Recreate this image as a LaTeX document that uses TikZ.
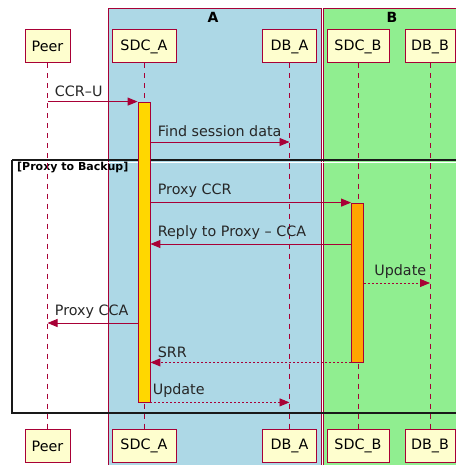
\documentclass[tikz,border=0pt]{standalone}
\usepackage{fontspec}
\setsansfont{DejaVu Sans}
\usetikzlibrary{arrows.meta,positioning}
\definecolor{umlred}{HTML}{A80036}
\definecolor{umlbox}{HTML}{FEFECE}
\definecolor{boxa}{HTML}{ADD8E6}
\definecolor{boxb}{HTML}{90EE90}
\definecolor{actgold}{HTML}{FFD700}
\definecolor{actorange}{HTML}{FFA500}
\begin{document}
\begin{tikzpicture}[x=1pt, y=-1pt, font=\sffamily\fontsize{14.3}{16}\selectfont,
  party/.style={draw=umlred, fill=umlbox, line width=1pt, minimum height=33pt, inner sep=0pt},
  lifeline/.style={draw=umlred, dash pattern=on 5pt off 5pt, line width=0.9pt},
  actbar/.style={draw=umlred, line width=0.8pt, minimum width=12pt, inner sep=0pt},
  msg/.style={draw=umlred, line width=0.9pt, -{Triangle[length=10pt,width=8pt]}},
  answer/.style={msg, dash pattern=on 2pt off 2pt},
  lbl/.style={anchor=south west, inner sep=0pt, yshift=4.5pt, xshift=7pt, text=black!85}]
\useasboundingbox (0,0) rectangle (455,465);
\fill[white] (0,0) rectangle (455,465);
\filldraw[fill=boxa, draw=umlred, line width=0.9pt] (108,8) rectangle (321,470);
\filldraw[fill=boxb, draw=umlred, line width=0.9pt] (323,8) rectangle (470,470);
\node[font=\sffamily\bfseries\fontsize{14}{16}\selectfont] (titleA) at (213,17) {A};
\node[font=\sffamily\bfseries\fontsize{14}{16}\selectfont] (titleB) at (392,17) {B};
\draw[black!90, line width=1.6pt] (12,160) -- (460,160) (12,160) -- (12,413) -- (460,413);
\draw[white, line width=1.2pt] (13,162.5) -- (460,162.5);
\node[anchor=west, inner sep=0pt, font=\sffamily\bfseries\fontsize{11}{13}\selectfont] (grp) at (17,168) {[Proxy to Backup]};
\node[party, minimum width=45pt] (peerTop) at (47.5,46.5) {Peer};
\node[party, minimum width=64pt] (sdcaTop) at (144,46.5) {SDC\_A};
\node[party, minimum width=54pt] (dbaTop) at (289.5,46.5) {DB\_A};
\node[party, minimum width=62pt] (sdcbTop) at (358,46.5) {SDC\_B};
\node[party, minimum width=50pt] (dbbTop) at (430,46.5) {DB\_B};
\node[party, minimum width=45pt] (peerBot) at (47.5,446) {Peer};
\node[party, minimum width=64pt] (sdcaBot) at (144,446) {SDC\_A};
\node[party, minimum width=54pt] (dbaBot) at (289.5,446) {DB\_A};
\node[party, minimum width=62pt] (sdcbBot) at (358,446) {SDC\_B};
\node[party, minimum width=50pt] (dbbBot) at (430,446) {DB\_B};
\foreach \p in {peer,sdca,dba,sdcb,dbb}
  \draw[lifeline] (\p Top) -- (\p Bot);
\node[actbar, fill=actgold, minimum height=300pt] (sdcaAct) at (144,252) {};
\node[actbar, fill=actorange, minimum height=159pt] (sdcbAct) at (357.5,282.5) {};
\coordinate (findY) at (0,142);
\coordinate (replyY) at (0,244);
\coordinate (updY) at (0,283);
\coordinate (ccaY) at (0,323);
\draw[msg] (peerTop |- sdcaAct.north) -- (sdcaAct.north west) node[lbl, pos=0] {CCR–U};
\draw[msg] (sdcaAct.east |- findY) -- (dbaTop |- findY) node[lbl, pos=0] {Find session data};
\draw[msg] (sdcaAct.east |- sdcbAct.north) -- (sdcbAct.north west) node[lbl, pos=0] {Proxy CCR};
\draw[msg] (sdcbAct.west |- replyY) -- (sdcaAct.east |- replyY) node[lbl, pos=1] {Reply to Proxy – CCA};
\draw[answer] (sdcbAct.east |- updY) -- (dbbTop |- updY) node[lbl, pos=0, xshift=3pt] {Update};
\draw[msg] (sdcaAct.west |- ccaY) -- (peerTop |- ccaY) node[lbl, pos=1] {Proxy CCA};
\draw[answer] (sdcbAct.south west) -- (sdcaAct.east |- sdcbAct.south) node[lbl, pos=1] {SRR};
\draw[answer] (sdcaAct.south east) -- (dbaTop |- sdcaAct.south) node[lbl, pos=0, xshift=-5pt] {Update};
\end{tikzpicture}
\end{document}
